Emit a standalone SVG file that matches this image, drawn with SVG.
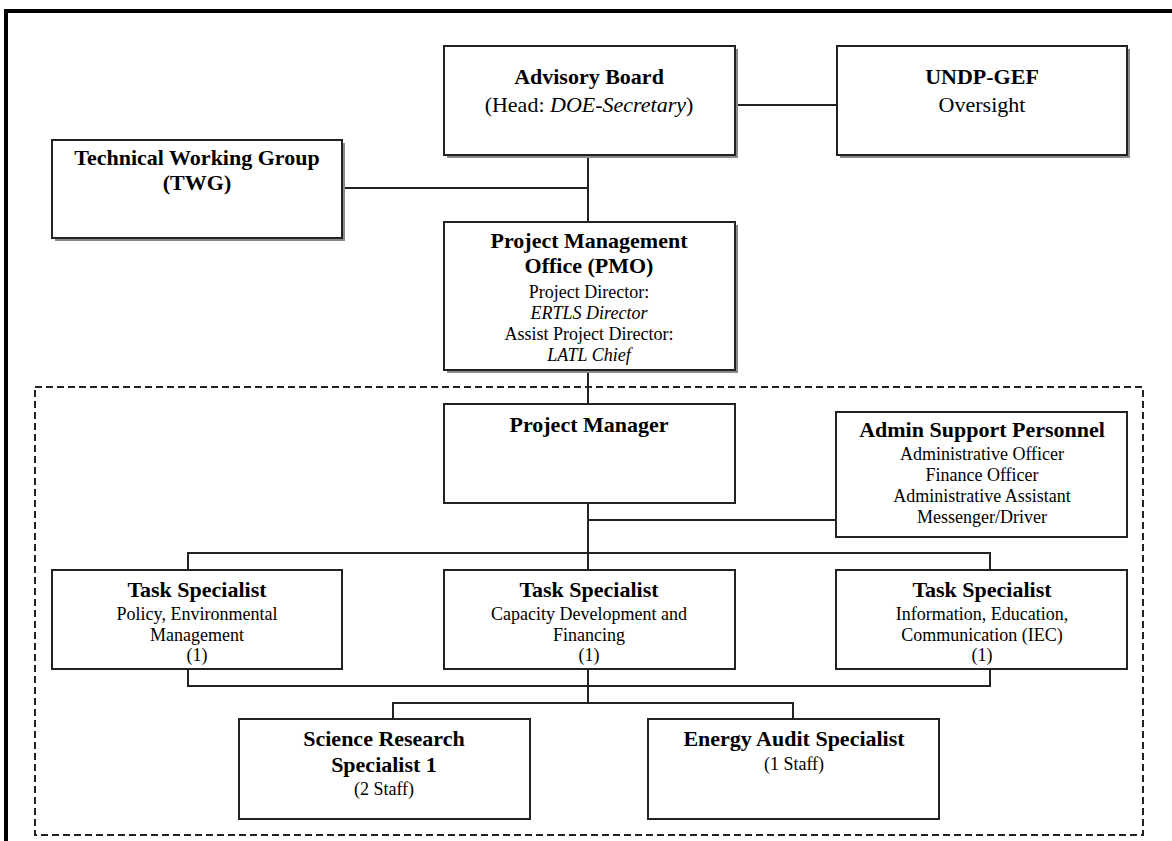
<svg xmlns="http://www.w3.org/2000/svg" width="1172" height="841" viewBox="0 0 1172 841">
<style>
.box{fill:#fff;stroke:#222;stroke-width:2}
.sh{fill:#8a8a8a}
.ln{fill:none;stroke:#222;stroke-width:2}
text{font-family:"Liberation Serif","Times New Roman",serif;fill:#000;text-anchor:middle}
.b{font-weight:bold;font-size:22px}
.r{font-size:22px}
.s{font-size:18px}
.i{font-style:italic}
</style>
<rect width="1172" height="841" fill="#fff"/>
<path d="M6 841 V11 H1172" fill="none" stroke="#000" stroke-width="4"/>
<rect x="35" y="387" width="1108" height="448" fill="none" stroke="#222" stroke-width="2" stroke-dasharray="7 4"/>
<g id="connectors">
<path class="ln" d="M735 105 H837"/>
<path class="ln" d="M588 155 V222"/>
<path class="ln" d="M342 188 H588"/>
<path class="ln" d="M588 370 V404"/>
<path class="ln" d="M588 503 V570"/>
<path class="ln" d="M588 520 H836"/>
<path class="ln" d="M188 570 V553 H990 V570"/>
<path class="ln" d="M188 669 V686 H990 V669"/>
<path class="ln" d="M588 669 V703"/>
<path class="ln" d="M393 719 V703 H793 V719"/>
</g>
<g id="advisory">
<rect class="sh" x="447" y="49" width="291" height="109"/>
<rect class="box" x="444" y="46" width="291" height="109"/>
<text class="b" x="589" y="84">Advisory Board</text>
<text class="r" x="589" y="112">(Head: <tspan class="i">DOE-Secretary</tspan>)</text>
</g>
<g id="undp">
<rect class="sh" x="840" y="49" width="290" height="109"/>
<rect class="box" x="837" y="46" width="290" height="109"/>
<text class="b" x="982" y="84">UNDP-GEF</text>
<text class="r" x="982" y="112">Oversight</text>
</g>
<g id="twg">
<rect class="sh" x="55" y="143" width="290" height="98"/>
<rect class="box" x="52" y="140" width="290" height="98"/>
<text class="b" x="197" y="165">Technical Working Group</text>
<text class="b" x="197" y="190">(TWG)</text>
</g>
<g id="pmo">
<rect class="sh" x="447" y="225" width="291" height="148"/>
<rect class="box" x="444" y="222" width="291" height="148"/>
<text class="b" x="589" y="248">Project Management</text>
<text class="b" x="589" y="273">Office (PMO)</text>
<text class="s" x="589" y="298">Project Director:</text>
<text class="s i" x="589" y="319">ERTLS Director</text>
<text class="s" x="589" y="340">Assist Project Director:</text>
<text class="s i" x="589" y="361">LATL Chief</text>
</g>
<g id="pm">
<rect class="box" x="444" y="404" width="291" height="99"/>
<text class="b" x="589" y="432">Project Manager</text>
</g>
<g id="admin">
<rect class="box" x="836" y="412" width="291" height="125"/>
<text class="b" x="982" y="437">Admin Support Personnel</text>
<text class="s" x="982" y="460">Administrative Officer</text>
<text class="s" x="982" y="481">Finance Officer</text>
<text class="s" x="982" y="502">Administrative Assistant</text>
<text class="s" x="982" y="523">Messenger/Driver</text>
</g>
<g id="ts1">
<rect class="box" x="52" y="570" width="290" height="99"/>
<text class="b" x="197" y="597">Task Specialist</text>
<text class="s" x="197" y="620">Policy, Environmental</text>
<text class="s" x="197" y="641">Management</text>
<text class="s" x="197" y="661">(1)</text>
</g>
<g id="ts2">
<rect class="box" x="444" y="570" width="291" height="99"/>
<text class="b" x="589" y="597">Task Specialist</text>
<text class="s" x="589" y="620">Capacity Development and</text>
<text class="s" x="589" y="641">Financing</text>
<text class="s" x="589" y="661">(1)</text>
</g>
<g id="ts3">
<rect class="box" x="836" y="570" width="291" height="99"/>
<text class="b" x="982" y="597">Task Specialist</text>
<text class="s" x="982" y="620">Information, Education,</text>
<text class="s" x="982" y="641">Communication (IEC)</text>
<text class="s" x="982" y="661">(1)</text>
</g>
<g id="science">
<rect class="box" x="239" y="719" width="291" height="100"/>
<text class="b" x="384" y="746">Science Research</text>
<text class="b" x="384" y="772">Specialist 1</text>
<text class="s" x="384" y="795">(2 Staff)</text>
</g>
<g id="energy">
<rect class="box" x="648" y="719" width="291" height="100"/>
<text class="b" x="794" y="746">Energy Audit Specialist</text>
<text class="s" x="794" y="770">(1 Staff)</text>
</g>
</svg>
